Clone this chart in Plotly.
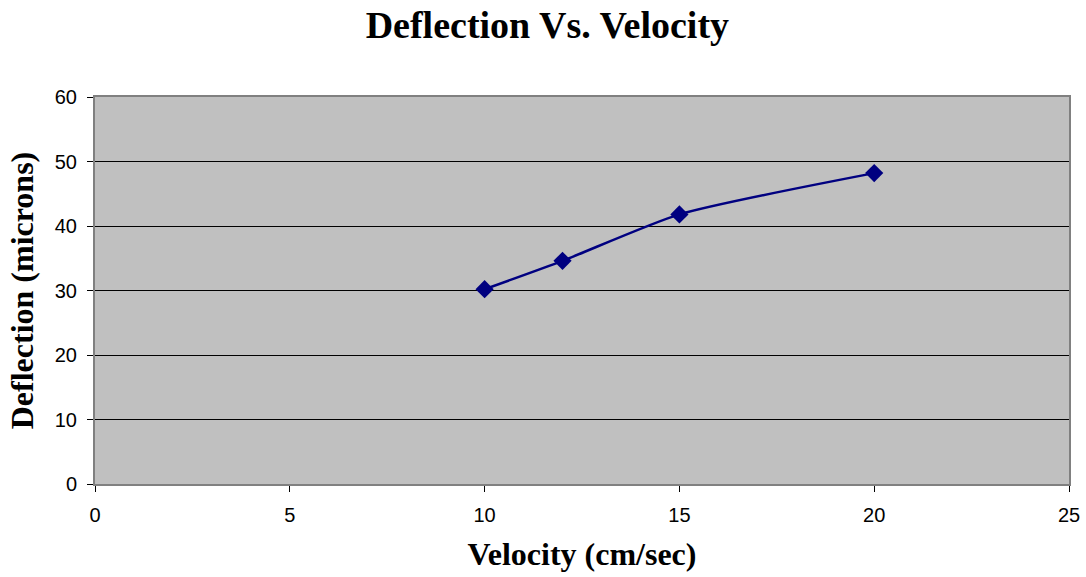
import plotly.graph_objects as go

# Measured deflection at each test velocity
velocity = [10, 12, 15, 20]
deflection = [30.2, 34.6, 41.8, 48.2]

x_ticks = [0, 5, 10, 15, 20, 25]
y_ticks = [0, 10, 20, 30, 40, 50, 60]

serif = "Liberation Serif, Times New Roman, serif"
sans = "Liberation Sans, Arial, sans-serif"

fig = go.Figure()
fig.add_trace(go.Scatter(
    x=velocity, y=deflection,
    mode="lines+markers",
    line=dict(color="#000080", width=2.5, shape="spline", smoothing=0.6),
    marker=dict(symbol="diamond", size=14, color="#000080"),
    showlegend=False,
))

fig.update_layout(
    width=1086, height=577,
    margin=dict(l=95, r=17, t=97, b=93),
    paper_bgcolor="white",
    plot_bgcolor="#C0C0C0",
    title=dict(
        text="<b>Deflection Vs. Velocity</b>",
        x=0.504, xanchor="center", y=0.957, yanchor="middle",
        font=dict(family=serif, size=38, color="black"),
    ),
    xaxis=dict(
        range=[0, 25], tickvals=x_ticks, ticktext=[str(v) for v in x_ticks],
        showgrid=False, zeroline=False, automargin=False,
        ticks="outside", ticklen=6, tickcolor="black", tickwidth=1,
        ticklabelstandoff=6,
        showline=True, linecolor="#808080", linewidth=2, mirror=True,
        tickfont=dict(family=sans, size=20, color="black"),
        title=dict(text="<b>Velocity (cm/sec)</b>", standoff=18,
                   font=dict(family=serif, size=32, color="black")),
    ),
    yaxis=dict(
        range=[0, 60], tickvals=y_ticks, ticktext=[str(v) for v in y_ticks],
        showgrid=True, gridcolor="black", gridwidth=1, zeroline=False,
        ticks="outside", ticklen=6, tickcolor="black", tickwidth=1,
        ticklabelstandoff=6,
        showline=True, linecolor="#808080", linewidth=2, mirror=True,
        tickfont=dict(family=sans, size=20, color="black"),
        title=dict(text="<b>Deflection (microns)</b>", standoff=12,
                   font=dict(family=serif, size=32, color="black")),
    ),
)

fig.write_html("out.html")
